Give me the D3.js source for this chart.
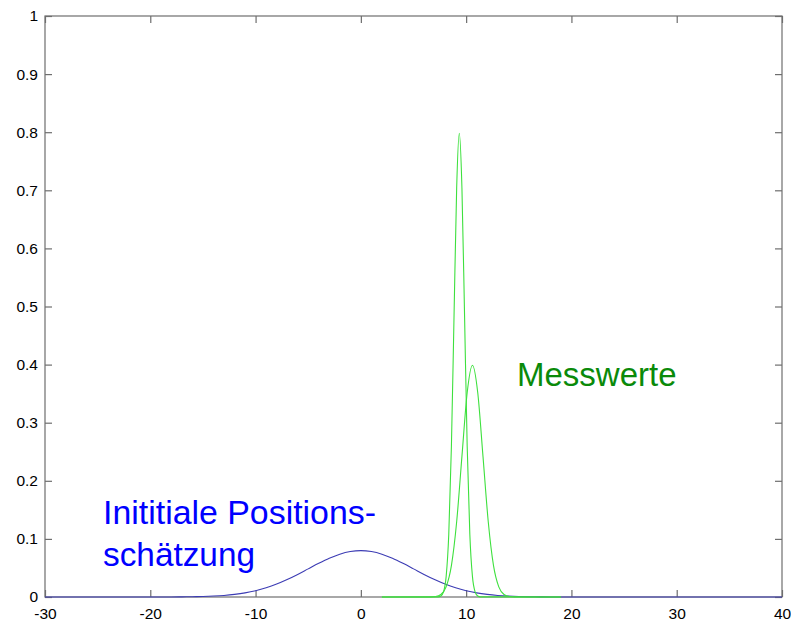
<!DOCTYPE html>
<html>
<head>
<meta charset="utf-8">
<script src="https://cdn.jsdelivr.net/npm/d3@7"></script>
<style>
  html, body { margin: 0; padding: 0; background: #fff; }
  svg { display: block; font-family: "Liberation Sans", Arial, Helvetica, sans-serif; }
</style>
</head>
<body>
<svg id="chart" width="791" height="621"></svg>
<script>
// ---- data ----
const xTicks = [-30, -20, -10, 0, 10, 20, 30, 40];
const xTickLabels = ["-30", "-20", "-10", "0", "10", "20", "30", "40"];
const yTicks = [0, 0.1, 0.2, 0.3, 0.4, 0.5, 0.6, 0.7, 0.8, 0.9, 1];
const yTickLabels = ["0", "0.1", "0.2", "0.3", "0.4", "0.5", "0.6", "0.7", "0.8", "0.9", "1"];

// initial position estimate (blue)
const blueX = [-30, -18, -17, -16, -15, -14, -13, -12, -11, -10, -9, -8, -7, -6, -5, -4, -3, -2, -1, 0,
               1, 2, 3, 4, 5, 6, 7, 8, 9, 10, 11, 12, 13, 14, 15, 16, 17, 18, 40];
const blueY = [0, 0, 0.0002, 0.0005, 0.0009, 0.0016, 0.0027, 0.0045, 0.0071, 0.0108, 0.0158, 0.0222, 0.0300, 0.0388, 0.0484, 0.0579, 0.0666, 0.0737, 0.0782, 0.0798,
               0.0782, 0.0737, 0.0666, 0.0579, 0.0484, 0.0388, 0.0300, 0.0222, 0.0158, 0.0108, 0.0071, 0.0045, 0.0027, 0.0016, 0.0009, 0.0005, 0.0002, 0, 0];

// measurement 1 (green, narrow)
const meas1X = [2, 7.35, 7.6, 7.85, 8.1, 8.35, 8.6, 8.85, 9.1, 9.35, 9.6, 9.85, 10.1, 10.35, 10.6, 10.85, 11.1, 11.35, 19];
const meas1Y = [0, 0.0003, 0.0017, 0.0089, 0.035, 0.108, 0.259, 0.484, 0.704, 0.798, 0.704, 0.484, 0.259, 0.108, 0.035, 0.0089, 0.0017, 0.0003, 0];

// measurement 2 (green, wide)
const meas2X = [2, 6.6, 7.1, 7.6, 8.1, 8.6, 9.1, 9.6, 10.1, 10.6, 11.1, 11.6, 12.1, 12.6, 13.1, 13.6, 14.1, 14.6, 19];
const meas2Y = [0, 0.0001, 0.0009, 0.0044, 0.0175, 0.054, 0.1295, 0.242, 0.352, 0.399, 0.352, 0.242, 0.1295, 0.054, 0.0175, 0.0044, 0.0009, 0.0001, 0];

const labelInitial = ["Inititiale Positions-", "schätzung"];
const labelMeas = "Messwerte";

// ---- layout ----
const L = 45, R = 782, T = 16, B = 597;
const svg = d3.select("#chart");
const x = d3.scaleLinear().domain([-30, 40]).range([L, R]);
const y = d3.scaleLinear().domain([0, 1]).range([B, T]);

const axisColor = "#6e6e6e";
const tickLen = 7;

// box
svg.append("rect").attr("x", L).attr("y", T).attr("width", R - L).attr("height", B - T)
  .attr("fill", "none").attr("stroke", axisColor).attr("stroke-width", 1.2);

// axes via d3 (inward ticks)
const gx = svg.append("g").attr("transform", `translate(0,${B})`)
  .call(d3.axisTop(x).tickValues(xTicks).tickSize(tickLen).tickFormat(""));
const gxTop = svg.append("g").attr("transform", `translate(0,${T})`)
  .call(d3.axisBottom(x).tickValues(xTicks).tickSize(tickLen).tickFormat(""));
const gy = svg.append("g").attr("transform", `translate(${L},0)`)
  .call(d3.axisRight(y).tickValues(yTicks).tickSize(tickLen).tickFormat(""));
const gyR = svg.append("g").attr("transform", `translate(${R},0)`)
  .call(d3.axisLeft(y).tickValues(yTicks).tickSize(tickLen).tickFormat(""));
[gx, gxTop, gy, gyR].forEach(g => {
  g.select(".domain").remove();
  g.selectAll("line").attr("stroke", axisColor).attr("stroke-width", 1.2);
});

// tick labels
const gxl = svg.append("g").attr("transform", `translate(0,${B})`)
  .call(d3.axisBottom(x).tickValues(xTicks).tickSize(0).tickPadding(11).tickFormat((d, i) => xTickLabels[i]));
gxl.select(".domain").remove();
gxl.selectAll("text").attr("font-size", 15.5).attr("fill", "#000")
  .attr("font-family", "'Liberation Sans', Arial, Helvetica, sans-serif");

const gyl = svg.append("g").attr("transform", `translate(${L},0)`)
  .call(d3.axisLeft(y).tickValues(yTicks).tickSize(0).tickPadding(7).tickFormat((d, i) => yTickLabels[i]));
gyl.select(".domain").remove();
gyl.selectAll("text").attr("font-size", 15.5).attr("fill", "#000")
  .attr("font-family", "'Liberation Sans', Arial, Helvetica, sans-serif");

// curves
const line = d3.line().x(d => x(d[0])).y(d => y(d[1])).curve(d3.curveMonotoneX);
const series = [
  { xs: blueX, ys: blueY, color: "#3c3cb4" },
  { xs: meas2X, ys: meas2Y, color: "#3ee03e" },
  { xs: meas1X, ys: meas1Y, color: "#3ee03e" }
];
series.forEach(s => {
  svg.append("path")
    .datum(s.xs.map((v, i) => [v, s.ys[i]]))
    .attr("d", line)
    .attr("fill", "none")
    .attr("stroke", s.color)
    .attr("stroke-width", 1.1);
});

// annotations
svg.append("text").attr("x", 103).attr("y", 524).attr("font-size", 33).attr("fill", "#0000ff")
  .attr("textLength", 273).attr("lengthAdjust", "spacingAndGlyphs")
  .text(labelInitial[0]);
svg.append("text").attr("x", 103).attr("y", 566).attr("font-size", 33).attr("fill", "#0000ff")
  .attr("textLength", 152).attr("lengthAdjust", "spacingAndGlyphs")
  .text(labelInitial[1]);
svg.append("text").attr("x", 517).attr("y", 386).attr("font-size", 33).attr("fill", "#0a8a0a")
  .text(labelMeas);
</script>
</body>
</html>
